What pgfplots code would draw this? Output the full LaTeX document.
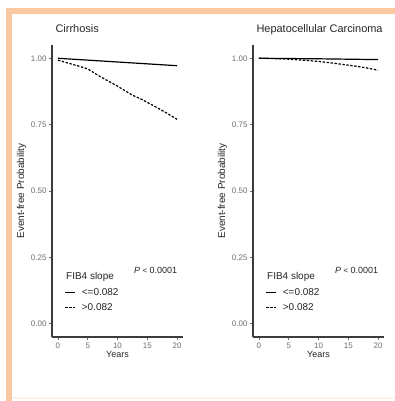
\documentclass[border=0pt]{standalone}
\usepackage{fontspec}
\setmainfont{Liberation Sans}
\usepackage{pgfplots}
\pgfplotsset{compat=1.18}
\definecolor{peach}{RGB}{250,200,160}
\definecolor{axgray}{RGB}{60,60,60}
\definecolor{tickgray}{RGB}{110,110,110}
\pgfplotsset{
  km/.style={
    scale only axis,
    width=131bp, height=292bp,
    xmin=-1, xmax=21, ymin=-0.05, ymax=1.05,
    axis x line*=bottom, axis y line*=left,
    axis line style={axgray, line width=1.1pt},
    xtick={0,5,10,15,20}, ytick={0,0.25,0.5,0.75,1},
    yticklabels={0.00,0.25,0.50,0.75,1.00},
    tick style={tickgray, line width=0.6pt},
    tick align=outside, major tick length=3bp,
    tick label style={font=\fontsize{8}{9}\selectfont, text=tickgray},
    /pgf/number format/assume math mode=true,
    xticklabel style={yshift=1bp},
    yticklabel style={xshift=1bp},
    xlabel={Years}, ylabel={Event-free Probability},
    label style={font=\fontsize{9}{10}\selectfont, text=black!85},
    ylabel style={font=\fontsize{10}{11}\selectfont},
    xlabel style={yshift=4bp},
    ylabel style={yshift=-2bp},
    title style={at={(0,1)}, anchor=base west, yshift=7bp, xshift=0bp, font=\fontsize{11}{12}\selectfont, text=black!85},
    legend style={draw=none, fill=none, font=\fontsize{10}{11}\selectfont, text=black!85,
      at={(axis cs:0.6,0.15)}, anchor=north west, row sep=3bp,
      /tikz/every odd column/.append style={column sep=4bp}},
    legend cell align=left,
    legend image code/.code={\draw[#1] (0bp,0bp) -- (10bp,0bp);},
    clip=false,
  },
  solidc/.style={black, line width=1.2pt},
  dashc/.style={black, line width=1.2pt, dash pattern=on 2.4pt off 1.6pt},
}
\begin{document}
\begin{tikzpicture}
\fill[white] (0bp,0bp) rectangle (395bp,401bp);
\fill[peach] (6bp,387bp) rectangle (395bp,393bp);
\fill[peach] (6bp,0bp) rectangle (12bp,393bp);
\fill[peach!25] (12bp,2bp) rectangle (395bp,4bp);

\begin{axis}[km, at={(52bp,64bp)}, anchor=south west, title={Cirrhosis}]
\addplot[solidc] coordinates {(0,1.0)(5,0.993)(10,0.986)(15,0.979)(20,0.972)};
\addlegendentry{<=0.082}
\addplot[dashc] coordinates {(0,0.993)(2,0.98)(4,0.967)(5,0.96)(7,0.932)(10,0.895)(12.5,0.861)(14,0.846)(16,0.822)(18,0.797)(20,0.77)};
\addlegendentry{>0.082}
\node[anchor=base west, font=\fontsize{10}{11}\selectfont, text=black!85] at (axis cs:0.8,0.165) {FIB4 slope};
\node[anchor=base west, font=\fontsize{9}{10}\selectfont, text=black!85] at (axis cs:12.2,0.19) {\textit{P} {\fontsize{8}{9}\selectfont <} 0.0001};
\end{axis}

\begin{axis}[km, at={(253bp,64bp)}, anchor=south west, title={Hepatocellular Carcinoma}]
\addplot[solidc] coordinates {(0,1.0)(10,0.998)(20,0.995)};
\addlegendentry{<=0.082}
\addplot[dashc] coordinates {(0,1.0)(4,0.998)(6,0.995)(8,0.992)(10,0.988)(12,0.983)(14,0.977)(16,0.971)(18,0.964)(20,0.955)};
\addlegendentry{>0.082}
\node[anchor=base west, font=\fontsize{10}{11}\selectfont, text=black!85] at (axis cs:0.8,0.165) {FIB4 slope};
\node[anchor=base west, font=\fontsize{9}{10}\selectfont, text=black!85] at (axis cs:12.2,0.19) {\textit{P} {\fontsize{8}{9}\selectfont <} 0.0001};
\end{axis}
\end{tikzpicture}
\end{document}
